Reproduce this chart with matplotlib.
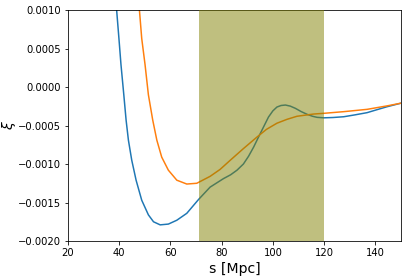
import numpy as np
import matplotlib
matplotlib.use("Agg")
from matplotlib import pyplot as plt

# values
s_blue = [38.3, 39.0, 39.9, 40.7, 41.8, 42.7, 43.6, 44.9, 46.6, 48.8, 51.4,
          53.4, 56.0, 59.2, 62.5, 66.4, 71.0, 75.5, 80.7, 83.5, 86.0, 88.5,
          90.5, 92.5, 94.4, 96.5, 98.3, 100.0, 101.6, 103.2, 104.9, 106.8,
          108.8, 111.0, 113.4, 115.5, 117.3, 120.0, 123.5, 127.7, 132.0,
          136.8, 140.5, 144.6, 150.0]
xi_blue = [0.00135, 0.00100, 0.00063, 0.00029, -0.00010, -0.00043, -0.00069,
           -0.00095, -0.00121, -0.00147, -0.00166, -0.00175, -0.00179,
           -0.00178, -0.00173, -0.00164, -0.00146, -0.00130, -0.00119,
           -0.00114, -0.00108, -0.00100, -0.00090, -0.00078, -0.00065,
           -0.00051, -0.00039, -0.00031, -0.00026, -0.000240, -0.000234,
           -0.000248, -0.000277, -0.000318, -0.000355, -0.000380, -0.000394,
           -0.000400, -0.000396, -0.000386, -0.000362, -0.000333, -0.000296,
           -0.000256, -0.000210]

s_orange = [46.8, 47.9, 48.8, 50.1, 51.4, 53.1, 54.7, 56.6, 59.2, 62.5, 66.4,
            70.3, 75.5, 79.4, 83.4, 88.5, 93.8, 97.5, 101.6, 105.5, 109.4,
            115.9, 120.5, 127.7, 136.8, 144.6, 150.0]
xi_orange = [0.00135, 0.00100, 0.00063, 0.00029, -0.00010, -0.00043,
             -0.00069, -0.00091, -0.00108, -0.00121, -0.00126, -0.00125,
             -0.00116, -0.00107, -0.00095, -0.00080, -0.00065, -0.00055,
             -0.00047, -0.00042, -0.00038, -0.000351, -0.000340, -0.000320,
             -0.000290, -0.000245, -0.000210]

fit_range = (71, 120)

fig = plt.figure(figsize=(407 / 72, 278 / 72), dpi=72)
ax = fig.add_axes([0.167, 0.133, 0.818, 0.831])

ax.plot(s_blue, xi_blue, color="C0", lw=1.5)
ax.plot(s_orange, xi_orange, color="C1", lw=1.5)
# the band sits on top of the curves, tinting them green
ax.axvspan(*fit_range, color="olive", alpha=0.5, lw=0, zorder=3)

ax.set_xlim(20, 150)
ax.set_ylim(-0.002, 0.001)
ax.set_xticks([20, 40, 60, 80, 100, 120, 140])
ax.set_yticks(np.arange(-0.002, 0.0011, 0.0005))
ax.set_xlabel("s [Mpc]", fontsize=14)
ax.set_ylabel(r"$\xi$", fontsize=14)
ax.yaxis.set_label_coords(-0.15, 0.5)

fig.savefig("out.png", dpi=72)
